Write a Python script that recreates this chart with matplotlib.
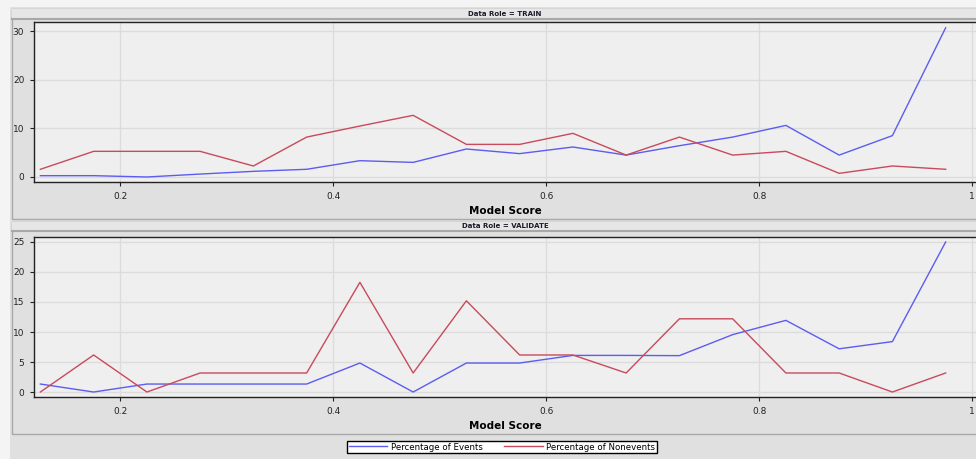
import matplotlib.pyplot as plt
from matplotlib.patches import Rectangle

# model score bin midpoints
score = [0.125, 0.175, 0.225, 0.275, 0.325, 0.375, 0.425, 0.475, 0.525,
         0.575, 0.625, 0.675, 0.725, 0.775, 0.825, 0.875, 0.925, 0.975]

train_events = [0.27, 0.27, 0.0, 0.6, 1.16, 1.58, 3.35, 3.0, 5.75,
                4.8, 6.16, 4.5, 6.43, 8.2, 10.6, 4.5, 8.5, 30.66]
train_nonevents = [1.58, 5.27, 5.27, 5.27, 2.26, 8.2, 10.47, 12.67, 6.7,
                   6.7, 8.97, 4.5, 8.2, 4.5, 5.27, 0.75, 2.26, 1.58]

valid_events = [1.33, 0.0, 1.33, 1.33, 1.33, 1.33, 4.83, 0.0, 4.83,
                4.83, 6.1, 6.1, 6.06, 9.56, 11.94, 7.2, 8.4, 25.0]
valid_nonevents = [0.0, 6.17, 0.0, 3.17, 3.17, 3.17, 18.28, 3.17, 15.2,
                   6.17, 6.17, 3.17, 12.2, 12.2, 3.17, 3.17, 0.0, 3.17]

W, H = 976, 459
BLUE = '#5c5cf0'
RED = '#c84a5c'

fig = plt.figure(figsize=(W / 100, H / 100), dpi=100, facecolor='#f4f4f4')


def fx(px):
    return px / W


def fy(py):
    return 1 - py / H


def rect(x0, y0, x1, y1, **kw):
    fig.patches.append(Rectangle((fx(x0), fy(y1)), fx(x1 - x0), (y1 - y0) / H,
                                 transform=fig.transFigure, zorder=-10, **kw))


# background + panels
rect(10, 7, 980, 462, facecolor='#e0e0e0', edgecolor='none')
for top, bot, title in [(9, 219, 'Data Role = TRAIN'), (222, 434, 'Data Role = VALIDATE')]:
    rect(12, top, 980, bot, facecolor='#e0e0e0', edgecolor='#a8a8a8', lw=1)
    rect(12, top, 980, top + 9.5, facecolor='#e6e6e6', edgecolor='none')
    fig.lines.append(plt.Line2D([fx(12), 1], [fy(top + 9.5)] * 2, transform=fig.transFigure,
                                color='#a8a8a8', lw=1.5, zorder=-9))
    fig.text(fx(505), fy(top + 4.5), title, ha='center', va='center', fontsize=5.0,
             fontweight='bold', color='#1a1a2a')


def panel(top, bot, ev, nev, ylim, yticks):
    ax = fig.add_axes([fx(34), fy(bot), 1 - fx(34), (bot - top) / H])
    ax.set_facecolor('#efefef')
    ax.plot(score, ev, color=BLUE, lw=1)
    ax.plot(score, nev, color=RED, lw=1)
    ax.set_xlim(0.119, 1.0035)
    ax.set_ylim(*ylim)
    ax.set_xticks([0.2, 0.4, 0.6, 0.8, 1.0])
    ax.set_xticklabels(['0.2', '0.4', '0.6', '0.8', '1'])
    ax.set_yticks(yticks)
    ax.grid(True, color='#dcdcdc', lw=1)
    ax.set_axisbelow(True)
    for s in ['left', 'top', 'bottom']:
        ax.spines[s].set_color('#222222')
        ax.spines[s].set_linewidth(1)
    ax.spines['right'].set_visible(False)
    ax.tick_params(labelsize=6.5, length=3, width=0.8, colors='#222222', pad=4)
    ax.set_xlabel('Model Score', fontsize=7.5, fontweight='bold', labelpad=4)
    return ax


panel(22, 182, train_events, train_nonevents, (-1.03, 31.85), [0, 10, 20, 30])
ax2 = panel(237, 397, valid_events, valid_nonevents, (-0.83, 25.83), [0, 5, 10, 15, 20, 25])

h = ax2.get_lines()
leg = fig.legend(h, ['Percentage of Events', 'Percentage of Nonevents'],
                 loc='center', bbox_to_anchor=(fx(502), fy(447)), ncol=2,
                 fontsize=6.2, frameon=True, fancybox=False, edgecolor='black',
                 framealpha=1, handlelength=4.5, borderpad=0.2, columnspacing=2.5,
                 handletextpad=0.4)
leg.get_frame().set_linewidth(1)

fig.savefig('out.png', dpi=100, facecolor=fig.get_facecolor())
